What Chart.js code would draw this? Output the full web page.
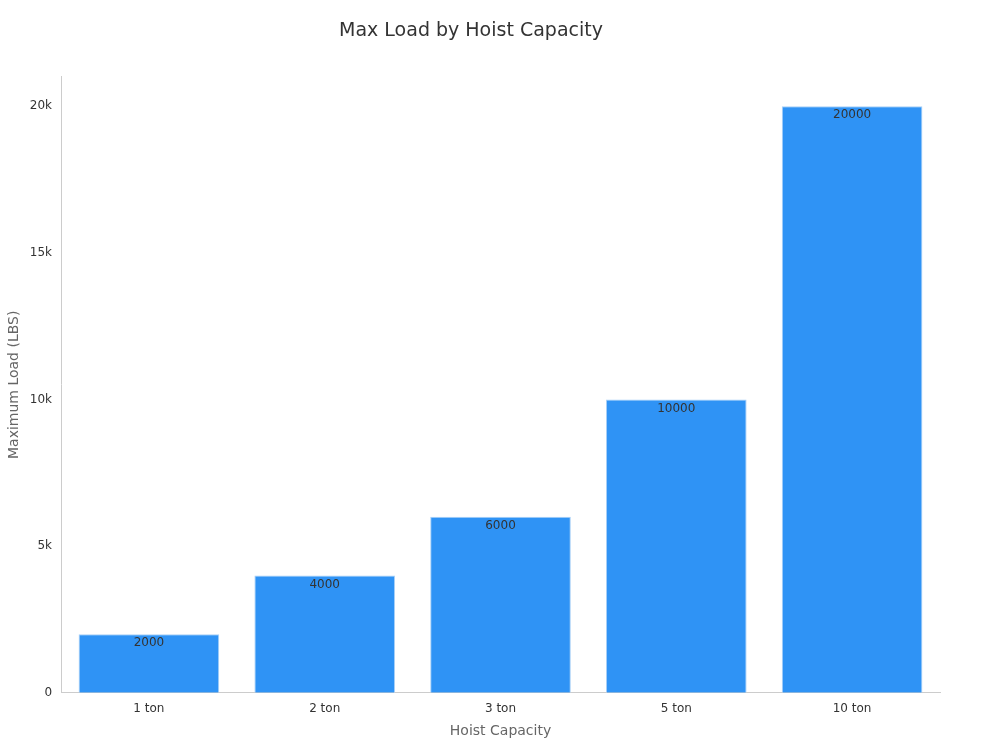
<!DOCTYPE html>
<html>
<head>
<meta charset="utf-8">
<script src="https://cdn.jsdelivr.net/npm/chart.js@4"></script>
<style>
  html, body { margin: 0; padding: 0; background: #fff; }
  #wrap { width: 1000px; height: 750px; }
</style>
</head>
<body>
<div id="wrap"><canvas id="c"></canvas></div>
<script>
const categories = ['1 ton', '2 ton', '3 ton', '5 ton', '10 ton'];
const maxLoad = [2000, 4000, 6000, 10000, 20000];
const yTicks = [0, 5000, 10000, 15000, 20000];

// draws value labels just inside the top of each bar
const barLabels = {
    id: 'barLabels',
    afterDatasetsDraw(chart) {
        const ctx = chart.ctx;
        const meta = chart.getDatasetMeta(0);
        ctx.save();
        ctx.font = '12px "DejaVu Sans", sans-serif';
        ctx.fillStyle = '#333';
        ctx.textAlign = 'center';
        ctx.textBaseline = 'top';
        meta.data.forEach((bar, i) => {
            ctx.fillText(String(maxLoad[i]), bar.x, bar.y + 3);
        });
        ctx.restore();
    },
};

new Chart(document.getElementById('c'), {
    type: 'bar',
    data: {
        labels: categories,
        datasets: [{
            data: maxLoad,
            backgroundColor: '#2f93f5',
            borderColor: '#a9d0f7',
            borderWidth: 1,
            categoryPercentage: 1,
            barPercentage: 0.8,
        }],
    },
    options: {
        responsive: true,
        maintainAspectRatio: false,
        animation: false,
        layout: { padding: { left: 2, right: 60, top: 10, bottom: 6 } },
        plugins: {
            legend: { display: false },
            tooltip: { enabled: false },
            title: {
                display: true,
                text: 'Max Load by Hoist Capacity',
                color: '#333',
                font: { family: '"DejaVu Sans", sans-serif', size: 19, weight: 'normal' },
                padding: { top: 10, bottom: 34 },
            },
        },
        scales: {
            x: {
                grid: { display: false, drawTicks: true, tickLength: 6 },
                border: { color: '#ccc' },
                ticks: { color: '#333', font: { family: '"DejaVu Sans", sans-serif', size: 12 } },
                title: {
                    display: true, text: 'Hoist Capacity', color: '#666',
                    font: { family: '"DejaVu Sans", sans-serif', size: 14 },
                },
            },
            y: {
                min: 0,
                max: 21000,
                afterBuildTicks: (axis) => { axis.ticks = yTicks.map((v) => ({ value: v })); },
                grid: { display: false, drawTicks: true, tickLength: 6, drawOnChartArea: false },
                border: { color: '#ccc' },
                ticks: {
                    color: '#333',
                    font: { family: '"DejaVu Sans", sans-serif', size: 12 },
                    callback: (v) => (v === 0 ? '0' : v / 1000 + 'k'),
                },
                title: {
                    display: true, text: 'Maximum Load (LBS)', color: '#666',
                    font: { family: '"DejaVu Sans", sans-serif', size: 14 },
                },
            },
        },
    },
    plugins: [barLabels],
});
</script>
</body>
</html>
